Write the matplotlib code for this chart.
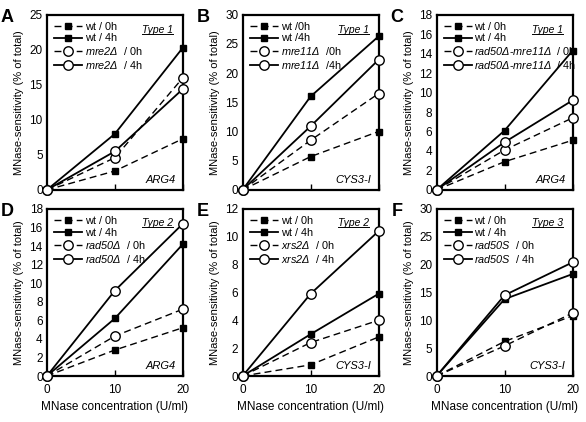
import matplotlib
matplotlib.use("Agg")
import matplotlib.pyplot as plt
from matplotlib.lines import Line2D

plt.rcParams['font.family'] = ['Liberation Sans', 'DejaVu Sans']
plt.rcParams['mathtext.fontset'] = 'custom'
# italic font put on the sf slot, so digits and Greek stay italic too
plt.rcParams['mathtext.sf'] = 'Liberation Sans:italic'
plt.rcParams['mathtext.rm'] = 'Liberation Sans'

conc = [0, 10, 20]

letters = ['A', 'B', 'C', 'D', 'E', 'F']
types = ['Type 1', 'Type 1', 'Type 1', 'Type 2', 'Type 2', 'Type 3']
genes = ['ARG4', 'CYS3-I', 'ARG4', 'ARG4', 'CYS3-I', 'CYS3-I']
mutants = ['mre2Δ', 'mre11Δ', 'rad50Δ-mre11Δ', 'rad50Δ', 'xrs2Δ', 'rad50S']
ymax = [25, 30, 18, 18, 12, 30]
ystep = [5, 5, 2, 2, 2, 5]

wt_0h = [[0, 2.7, 7.3], [0, 5.7, 10.0], [0, 2.9, 5.1],
         [0, 2.8, 5.2], [0, 0.8, 2.8], [0, 6.2, 10.8]]
wt_4h = [[0, 8.0, 20.3], [0, 16.0, 26.3], [0, 6.1, 14.3],
         [0, 6.2, 14.2], [0, 3.0, 5.9], [0, 13.8, 18.3]]
mut_0h = [[0, 4.6, 16.0], [0, 8.5, 16.5], [0, 4.1, 7.4],
          [0, 4.3, 7.2], [0, 2.4, 4.0], [0, 5.4, 11.3]]
mut_4h = [[0, 5.5, 14.4], [0, 10.9, 22.3], [0, 4.9, 9.2],
          [0, 9.2, 16.4], [0, 5.9, 10.4], [0, 14.5, 20.4]]


def ital(name):
    # italic mathtext pieces, hyphen kept as plain text
    return '-'.join('$\\mathsf{' + p + '}$' for p in name.split('-'))


fig = plt.figure(figsize=(5.86, 4.22), dpi=100)

lefts = [0.080, 0.414, 0.745]
rows = [(0.550, 0.415), (0.109, 0.396)]

dash = (0, (5, 3))
sq = dict(marker='s', markersize=4.6, markerfacecolor='black', markeredgecolor='black')
ci = dict(marker='o', markersize=6.8, markerfacecolor='white', markeredgecolor='black',
          markeredgewidth=1.0)

axes = []
for i in range(6):
    r, c = divmod(i, 3)
    bottom, height = rows[r]
    ax = fig.add_axes([lefts[c], bottom, 0.232, height])
    axes.append(ax)

    sep = ' /' if i == 1 else ' / '
    mut = ital(mutants[i])
    ax.plot(conc, wt_0h[i], color='black', lw=1.0, ls=dash, clip_on=False, zorder=3,
            label='wt' + sep + '0h', **sq)
    ax.plot(conc, wt_4h[i], color='black', lw=1.3, ls='-', clip_on=False, zorder=3,
            label='wt' + sep + '4h', **sq)
    ax.plot(conc, mut_0h[i], color='black', lw=1.0, ls=dash, clip_on=False, zorder=4,
            label=mut + ' ' + sep + '0h', **ci)
    ax.plot(conc, mut_4h[i], color='black', lw=1.3, ls='-', clip_on=False, zorder=4,
            label=mut + ' ' + sep + '4h', **ci)

    ax.set_xlim(0, 20)
    ax.set_ylim(0, ymax[i])
    ax.set_xticks(conc)
    ax.set_yticks(range(0, ymax[i] + 1, ystep[i]))
    ax.tick_params(axis='x', direction='in', length=4, width=1, labelsize=8.5, pad=6)
    ax.tick_params(axis='y', length=0, labelsize=8.5, pad=3)
    if r == 0:
        ax.set_xticklabels([])
    else:
        ax.set_xlabel('MNase concentration (U/ml)', fontsize=8.5, labelpad=3)
    ax.set_ylabel('MNase-sensitivity (% of total)', fontsize=8, labelpad=4)
    for s in ax.spines.values():
        s.set_linewidth(1.6)

    ax.legend(loc='upper left', frameon=False, fontsize=7.8, handlelength=2.6,
              handletextpad=0.25, labelspacing=0.15, borderaxespad=0.35,
              borderpad=0.3)
    ax.text(0.93, 0.915, types[i], transform=ax.transAxes, ha='right', va='center',
            fontsize=7.5, style='italic')
    ax.text(0.95, 0.057, genes[i], transform=ax.transAxes, ha='right', va='center',
            fontsize=8, style='italic')
    ax.text(-0.29, 0.985, letters[i], transform=ax.transAxes, ha='center', va='center',
            fontsize=13, fontweight='bold')

# underline the "Type" labels
fig.canvas.draw()
renderer = fig.canvas.get_renderer()
inv = fig.transFigure.inverted()
for ax in axes:
    t = [tx for tx in ax.texts if tx.get_text().startswith('Type')][0]
    bb = t.get_window_extent(renderer)
    (x0, y0), (x1, y1) = inv.transform([(bb.x0, bb.y0), (bb.x1, bb.y0)])
    fig.add_artist(Line2D([x0, x1], [y0 + 0.002, y1 + 0.002], color='black', lw=0.7,
                          transform=fig.transFigure))

fig.savefig('out.png', dpi=100)
